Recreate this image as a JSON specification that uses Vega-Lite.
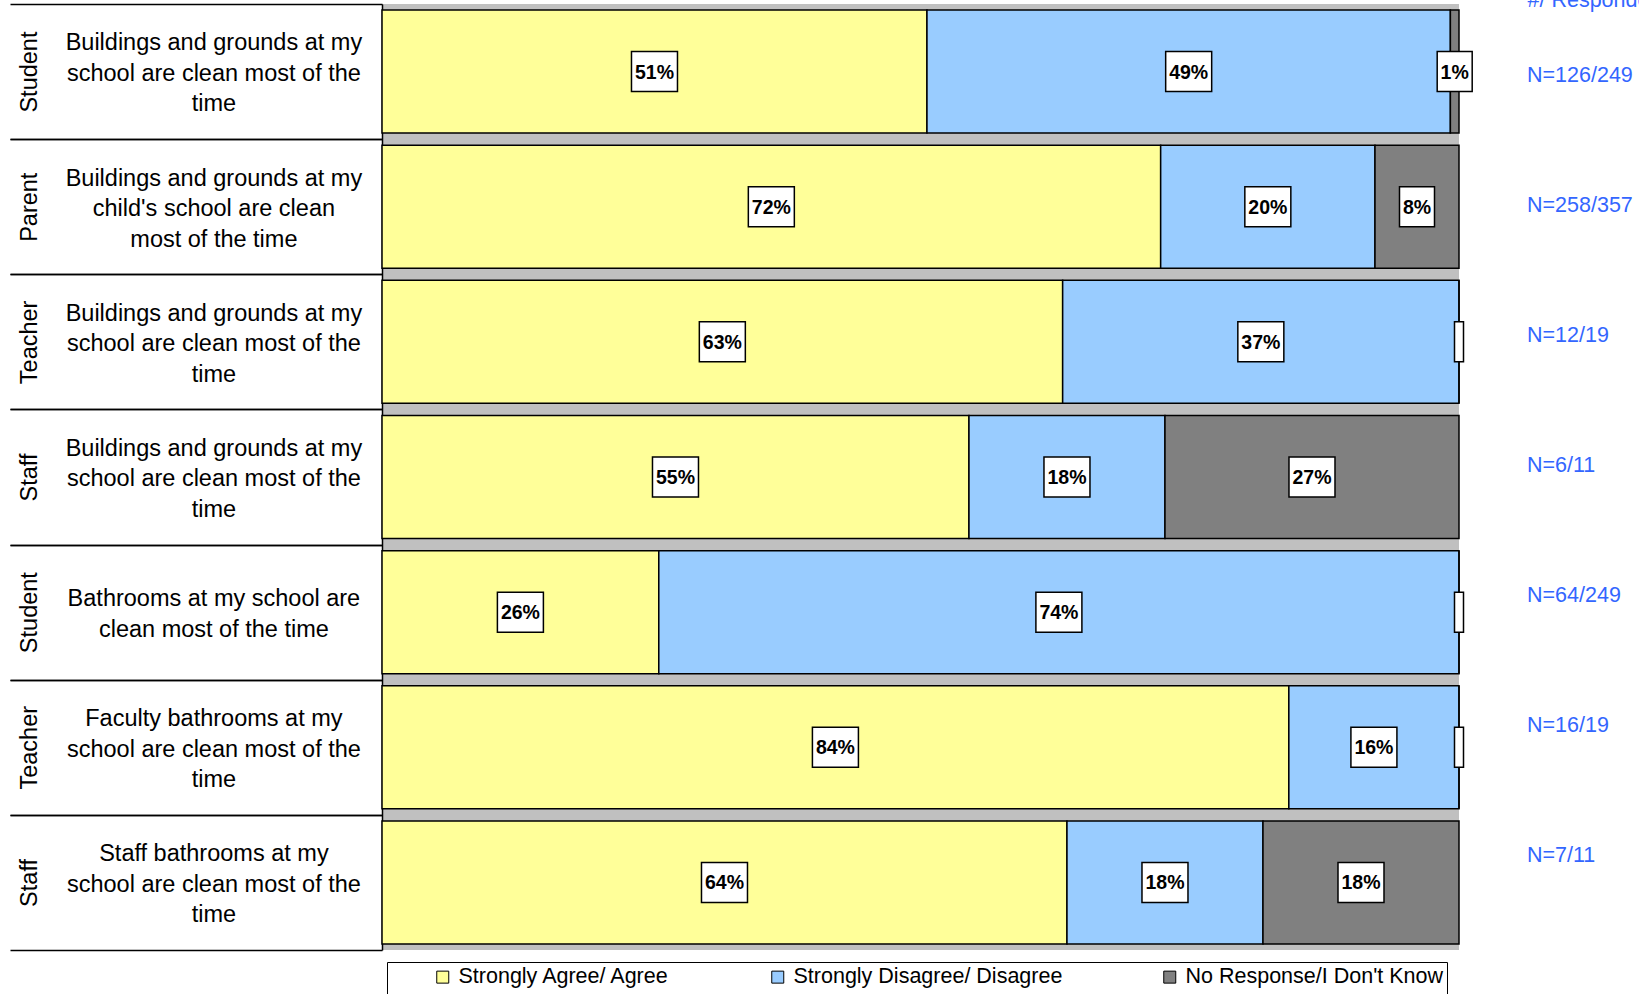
{
  "$schema": "https://vega.github.io/schema/vega-lite/v6.json",
  "width": 1077,
  "height": 946,
  "autosize": {"type": "none"},
  "padding": {"left": 382, "top": 4, "right": 180, "bottom": 44},
  "background": "white",
  "view": {"fill": "#c0c0c0", "stroke": null},
  "config": {"font": "Liberation Sans, Arial, sans-serif"},
  "datasets": {
    "segments": [
      {"item": "Student|Buildings and grounds at my|school are clean most of the|time", "cat": "Strongly Agree/ Agree", "value": 50.6, "label": "51%"},
      {"item": "Student|Buildings and grounds at my|school are clean most of the|time", "cat": "Strongly Disagree/ Disagree", "value": 48.6, "label": "49%"},
      {"item": "Student|Buildings and grounds at my|school are clean most of the|time", "cat": "No Response/I Don't Know", "value": 0.8, "label": "1%"},
      {"item": "Parent|Buildings and grounds at my|child's school are clean|most of the time", "cat": "Strongly Agree/ Agree", "value": 72.3, "label": "72%"},
      {"item": "Parent|Buildings and grounds at my|child's school are clean|most of the time", "cat": "Strongly Disagree/ Disagree", "value": 19.9, "label": "20%"},
      {"item": "Parent|Buildings and grounds at my|child's school are clean|most of the time", "cat": "No Response/I Don't Know", "value": 7.8, "label": "8%"},
      {"item": "Teacher|Buildings and grounds at my|school are clean most of the|time", "cat": "Strongly Agree/ Agree", "value": 63.2, "label": "63%"},
      {"item": "Teacher|Buildings and grounds at my|school are clean most of the|time", "cat": "Strongly Disagree/ Disagree", "value": 36.8, "label": "37%"},
      {"item": "Teacher|Buildings and grounds at my|school are clean most of the|time", "cat": "No Response/I Don't Know", "value": 0, "label": ""},
      {"item": "Staff|Buildings and grounds at my|school are clean most of the|time", "cat": "Strongly Agree/ Agree", "value": 54.5, "label": "55%"},
      {"item": "Staff|Buildings and grounds at my|school are clean most of the|time", "cat": "Strongly Disagree/ Disagree", "value": 18.2, "label": "18%"},
      {"item": "Staff|Buildings and grounds at my|school are clean most of the|time", "cat": "No Response/I Don't Know", "value": 27.3, "label": "27%"},
      {"item": "Student|Bathrooms at my school are|clean most of the time", "cat": "Strongly Agree/ Agree", "value": 25.7, "label": "26%"},
      {"item": "Student|Bathrooms at my school are|clean most of the time", "cat": "Strongly Disagree/ Disagree", "value": 74.3, "label": "74%"},
      {"item": "Student|Bathrooms at my school are|clean most of the time", "cat": "No Response/I Don't Know", "value": 0, "label": ""},
      {"item": "Teacher|Faculty bathrooms at my|school are clean most of the|time", "cat": "Strongly Agree/ Agree", "value": 84.2, "label": "84%"},
      {"item": "Teacher|Faculty bathrooms at my|school are clean most of the|time", "cat": "Strongly Disagree/ Disagree", "value": 15.8, "label": "16%"},
      {"item": "Teacher|Faculty bathrooms at my|school are clean most of the|time", "cat": "No Response/I Don't Know", "value": 0, "label": ""},
      {"item": "Staff|Staff bathrooms at my|school are clean most of the|time", "cat": "Strongly Agree/ Agree", "value": 63.6, "label": "64%"},
      {"item": "Staff|Staff bathrooms at my|school are clean most of the|time", "cat": "Strongly Disagree/ Disagree", "value": 18.2, "label": "18%"},
      {"item": "Staff|Staff bathrooms at my|school are clean most of the|time", "cat": "No Response/I Don't Know", "value": 18.2, "label": "18%"}
    ],
    "counts": [
      {"item": "Student|Buildings and grounds at my|school are clean most of the|time", "n": "N=126/249"},
      {"item": "Parent|Buildings and grounds at my|child's school are clean|most of the time", "n": "N=258/357"},
      {"item": "Teacher|Buildings and grounds at my|school are clean most of the|time", "n": "N=12/19"},
      {"item": "Staff|Buildings and grounds at my|school are clean most of the|time", "n": "N=6/11"},
      {"item": "Student|Bathrooms at my school are|clean most of the time", "n": "N=64/249"},
      {"item": "Teacher|Faculty bathrooms at my|school are clean most of the|time", "n": "N=16/19"},
      {"item": "Staff|Staff bathrooms at my|school are clean most of the|time", "n": "N=7/11"}
    ]
  },
  "layer": [
    {
      "data": {"name": "segments"},
      "transform": [
        {"calculate": "indexof([\"Strongly Agree/ Agree\", \"Strongly Disagree/ Disagree\", \"No Response/I Don't Know\"], datum.cat)", "as": "ord"},
        {"stack": "value", "groupby": ["item"], "sort": [{"field": "ord", "order": "ascending"}], "as": ["v0", "v1"]},
        {"calculate": "(datum.v0 + datum.v1) / 2", "as": "mid"},
        {"calculate": "'w' + length(datum.label)", "as": "w"}
      ],
      "resolve": {"axis": {"y": "independent"}},
      "layer": [
        {
          "mark": {"type": "bar", "stroke": "black", "strokeWidth": 1.5, "opacity": 1},
          "encoding": {
            "y": {
              "field": "item", "type": "nominal", "sort": null,
              "scale": {"paddingInner": 0.09, "paddingOuter": 0.045},
              "axis": {
                "orient": "left", "title": null, "grid": false,
                "domain": true, "domainColor": "black", "domainWidth": 1.5,
                "ticks": true, "tickColor": "black", "tickWidth": 1.5, "tickSize": 372,
                "bandPosition": 0, "tickOffset": -6.08,
                "labelOffset": {"condition": {"test": "length(split(datum.label, '|')) == 4", "value": -22.5}, "value": -7.5},
                "labelExpr": "slice(split(datum.label, '|'), 1)",
                "labelAlign": "center", "labelBaseline": "middle",
                "labelPadding": -203.4, "labelFontSize": 23.5, "labelLineHeight": 30.5,
                "labelLimit": 400, "labelColor": "black",
                "labelFont": "Liberation Sans, Arial, sans-serif"
              }
            },
            "x": {
              "field": "v0", "type": "quantitative",
              "scale": {"domain": [0, 100], "nice": false, "zero": false},
              "axis": {
                "orient": "top", "domain": false, "ticks": false, "labels": false, "grid": false,
                "title": "#/ Respondents",
                "titleX": 1145, "titleY": 2, "titleAlign": "left", "titleAnchor": "start",
                "titleBaseline": "alphabetic", "titleAngle": 0,
                "titleColor": "#3366ff", "titleFont": "Liberation Sans, Arial, sans-serif",
                "titleFontSize": 21.5, "titleFontWeight": "normal"
              }
            },
            "x2": {"field": "v1"},
            "color": {
              "field": "cat", "type": "nominal",
              "scale": {
                "domain": ["Strongly Agree/ Agree", "Strongly Disagree/ Disagree", "No Response/I Don't Know"],
                "range": ["#ffff99", "#99ccff", "#808080"]
              },
              "legend": {
                "orient": "none", "legendX": 5, "legendY": 958,
                "direction": "horizontal", "columns": 3,
                "title": " ", "titleOrient": "left", "titleFontSize": 40, "titlePadding": 41,
                "padding": 4, "strokeColor": "black", "fillColor": "white",
                "symbolType": "square", "symbolSize": 144, "symbolStrokeColor": "black", "symbolStrokeWidth": 1, "symbolOpacity": 1,
                "labelFont": "Liberation Sans, Arial, sans-serif",
                "labelFontSize": 21.5, "labelColor": "black", "labelOffset": 5, "labelLimit": 400,
                "columnPadding": 96
              }
            }
          }
        },
        {
          "mark": {"type": "point", "filled": true, "fill": "white", "stroke": "black", "strokeWidth": 1.5, "size": 1600, "opacity": 1},
          "encoding": {
            "y": {
              "field": "item", "type": "nominal", "sort": null,
              "axis": {
                "orient": "left", "title": null, "grid": false,
                "domain": false,
                "ticks": true, "tickColor": "black", "tickWidth": 1.5, "tickSize": 372,
                "bandPosition": 1, "tickOffset": 6.08, "labelOffset": -6.08,
                "labelExpr": "split(datum.label, '|')[0]",
                "labelAngle": -90, "labelAlign": "center", "labelBaseline": "middle",
                "labelPadding": -19, "labelFontSize": 23.5,
                "labelLimit": 400, "labelColor": "black",
                "labelFont": "Liberation Sans, Arial, sans-serif"
              }
            },
            "x": {"field": "mid", "type": "quantitative"},
            "shape": {
              "field": "w", "type": "nominal",
              "scale": {
                "domain": ["w0", "w2", "w3"],
                "range": ["M-0.225,-1H0.225V1H-0.225Z", "M-0.875,-1H0.875V1H-0.875Z", "M-1.15,-1H1.15V1H-1.15Z"]
              },
              "legend": null
            }
          }
        },
        {
          "mark": {"type": "text", "fontWeight": "bold", "fontSize": 19.5, "color": "black", "align": "center", "baseline": "middle", "dy": 1, "font": "Liberation Sans, Arial, sans-serif"},
          "encoding": {
            "y": {"field": "item", "type": "nominal", "sort": null, "axis": null},
            "x": {"field": "mid", "type": "quantitative"},
            "text": {"field": "label"}
          }
        }
      ]
    },
    {
      "data": {"name": "counts"},
      "mark": {"type": "text", "align": "left", "baseline": "middle", "dx": 68, "fontSize": 21.5, "color": "#3366ff", "font": "Liberation Sans, Arial, sans-serif"},
      "encoding": {
        "x": {"datum": 100},
        "y": {"field": "item", "type": "nominal", "sort": null, "scale": {"type": "point", "range": [72, 852], "padding": 0}, "axis": null},
        "text": {"field": "n"}
      }
    }
  ],
  "resolve": {"scale": {"y": "independent"}}
}
